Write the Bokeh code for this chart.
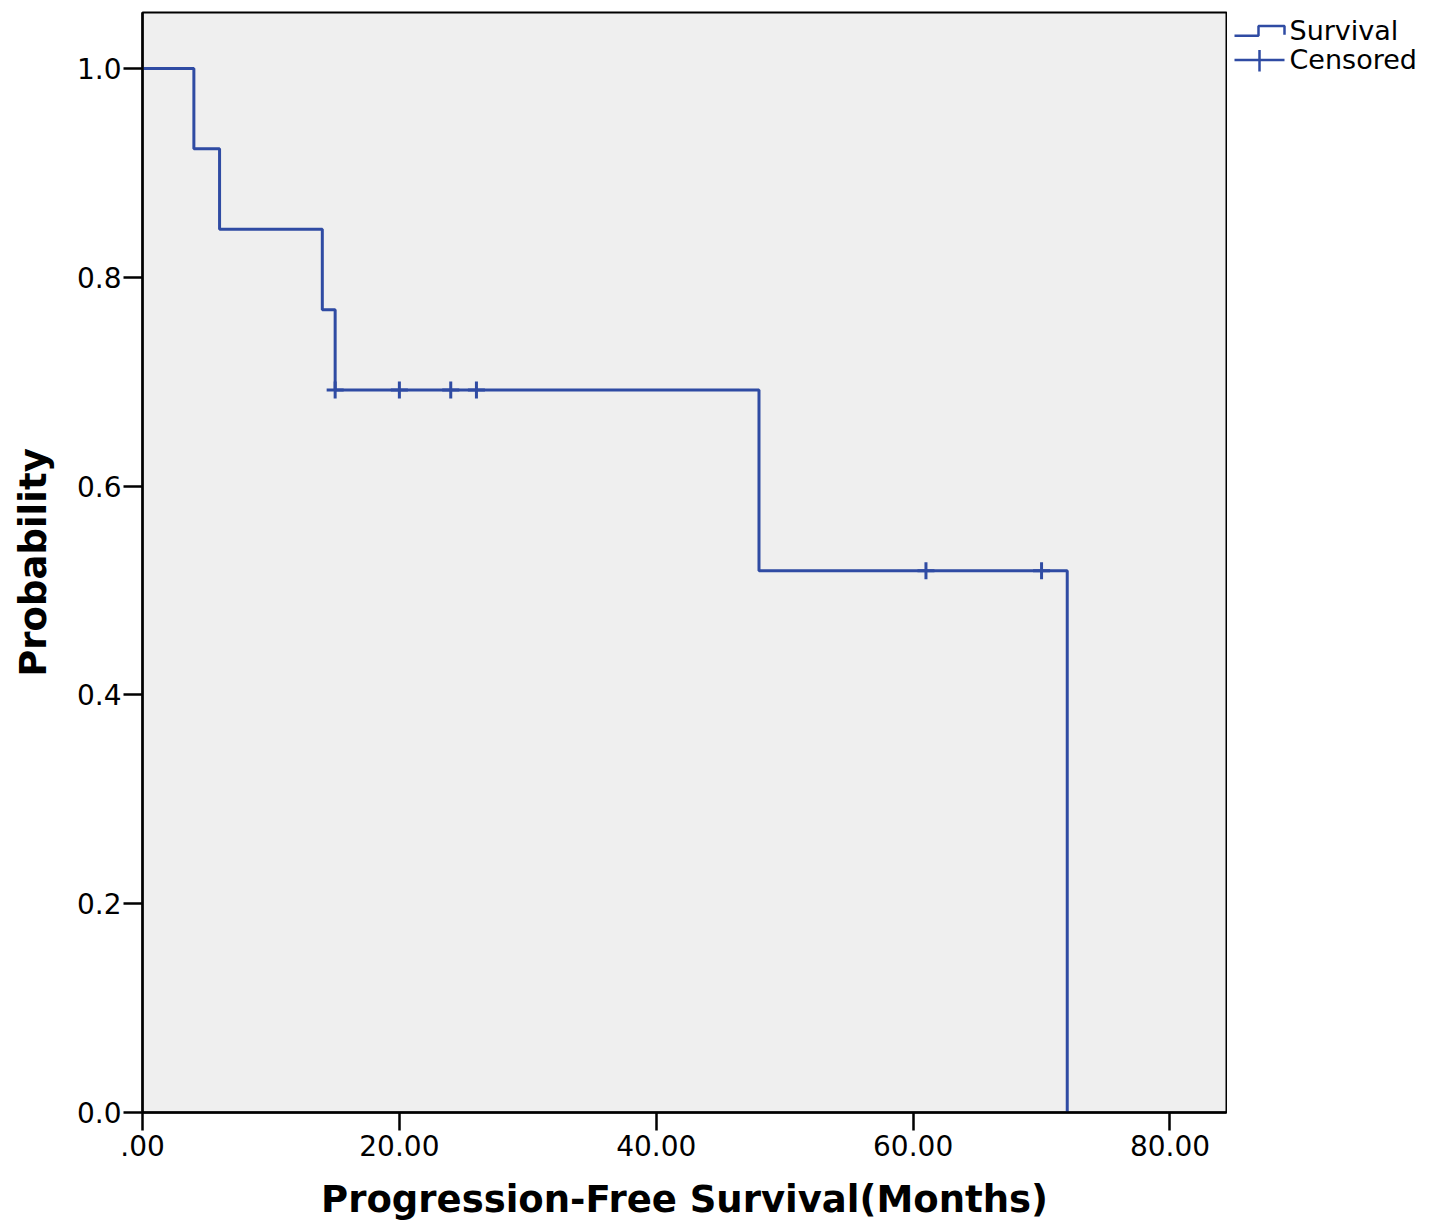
from bokeh.plotting import figure
from bokeh.layouts import row
from bokeh.models import FixedTicker, Range1d, ColumnDataSource
from bokeh.core.properties import value
from bokeh.embed import file_html
from bokeh.resources import INLINE

# ---- data ----
step_months = [0, 4, 6, 14, 15, 48, 72]
step_surv = [1.0, 0.923, 0.846, 0.769, 0.692, 0.519, 0.0]
cens_months = [15, 20, 24, 26, 61, 70]
cens_surv = [0.692, 0.692, 0.692, 0.692, 0.519, 0.519]
x_ticks = [0, 20, 40, 60, 80]
x_tick_labels = [".00", "20.00", "40.00", "60.00", "80.00"]
y_ticks = [0.0, 0.2, 0.4, 0.6, 0.8, 1.0]
legend_labels = ["Survival", "Censored"]

BLUE = "#2f4ba3"
FONT = "DejaVu Sans"
H = 1230

p = figure(width=1227, height=H, output_backend="svg", toolbar_location=None,
           x_range=Range1d(0, 84.4), y_range=Range1d(0, 1.0536),
           min_border_left=142, min_border_right=1, min_border_top=12, min_border_bottom=118)
p.background_fill_color = "#efefef"
p.border_fill_color = "white"
p.outline_line_color = "black"
p.outline_line_width = 2
p.grid.visible = False

src = ColumnDataSource(dict(x=step_months, y=step_surv))
p.step("x", "y", source=src, mode="after", line_color=BLUE, line_width=3)
csrc = ColumnDataSource(dict(x=cens_months, y=cens_surv))
p.scatter("x", "y", source=csrc, marker="cross", size=17, line_color=BLUE, line_width=3)

for ax in (p.xaxis[0], p.yaxis[0]):
    ax.axis_line_color = "black"
    ax.axis_line_width = 2.5
    ax.major_tick_line_color = "black"
    ax.major_tick_line_width = 2.5
    ax.major_tick_in = 0
    ax.minor_tick_line_color = None
    ax.major_label_text_font = FONT
    ax.major_label_text_font_size = "28px"
    ax.major_label_text_color = "black"
    ax.axis_label_text_font = FONT
    ax.axis_label_text_font_style = "bold"
    ax.axis_label_text_font_size = "37px"
    ax.axis_label_text_color = "black"

p.xaxis.ticker = FixedTicker(ticks=x_ticks)
p.xaxis.major_label_overrides = {t: l for t, l in zip(x_ticks, x_tick_labels)}
p.xaxis.major_tick_out = 18
p.xaxis.major_label_standoff = 4
p.xaxis.axis_label = "Progression-Free Survival(Months)"
p.xaxis.axis_label_standoff = 19

p.yaxis.ticker = FixedTicker(ticks=y_ticks)
p.yaxis.major_label_overrides = {t: f"{t:.1f}" for t in y_ticks}
p.yaxis.major_tick_out = 19
p.yaxis.major_label_standoff = 2
p.yaxis.axis_label = "Probability"
p.yaxis.axis_label_standoff = 19

# ---- legend panel (screen-like coordinates, y downwards) ----
lg = figure(width=206, height=H, output_backend="svg", toolbar_location=None,
            title=None, x_range=Range1d(-1, 205), y_range=Range1d(H + 8, 8),
            min_border=0, outline_line_color=None)
lg.axis.visible = False
lg.grid.visible = False
lg.background_fill_color = "white"
lg.line([6, 30, 30, 56, 56], [34, 34, 23, 23, 33], line_color=BLUE, line_width=2.5)
lg.line([6, 56], [61, 61], line_color=BLUE, line_width=2.5)
lg.line([31, 31], [50, 74], line_color=BLUE, line_width=2.5)
lg.text(x=[61, 61], y=[28, 61], text=legend_labels, text_font=value(FONT),
        text_font_size="27px", text_color="black", text_baseline="middle", text_align="left")

layout = row(p, lg, spacing=0)
open("out.html", "w").write(file_html(layout, INLINE))
